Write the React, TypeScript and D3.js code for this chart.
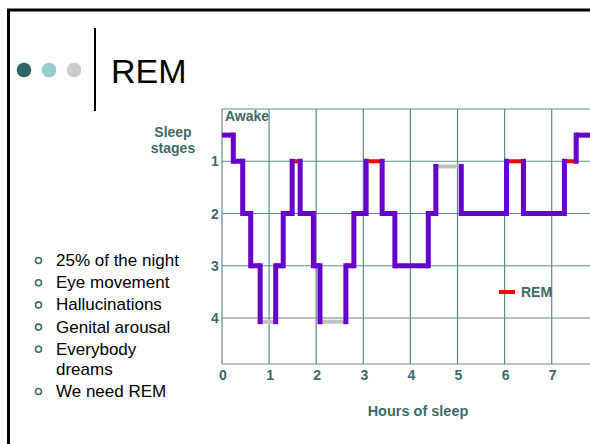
import * as d3 from "d3";

// hypnogram: each horizontal run of the night
const segStart = [0, 0.24, 0.44, 0.61, 0.81, 1.14, 1.3, 1.49, 1.66, 1.94, 2.08, 2.63, 2.8, 3.06, 3.4, 3.67, 4.38, 4.54, 5.08, 6.04, 6.4, 7.27, 7.52];
const segEnd = [0.24, 0.44, 0.61, 0.81, 1.14, 1.3, 1.49, 1.66, 1.94, 2.08, 2.63, 2.8, 3.06, 3.4, 3.67, 4.38, 4.54, 5.08, 6.04, 6.4, 7.27, 7.52, 7.9];
const segStage = [0.5, 1, 2, 3, 4.07, 3, 2, 1, 2, 3, 4.07, 3, 2, 1, 2, 3, 2, 1.1, 2, 1, 2, 1, 0.5];
const segKind = ["sleep", "sleep", "sleep", "sleep", "gray", "sleep", "sleep", "rem", "sleep", "sleep", "gray", "sleep", "sleep", "rem", "sleep", "sleep", "sleep", "gray", "sleep", "rem", "sleep", "rem", "sleep"];

const hourTicks = [0, 1, 2, 3, 4, 5, 6, 7];
const stageTicks = [1, 2, 3, 4];
const bullets = ["25% of the night", "Eye movement", "Hallucinations", "Genital arousal", "Everybody|dreams", "We need REM"];
const dotColors = ["#2f6666", "#99cccc", "#cccccc"];

const teal = "#3d6a6a";
const gridColor = "#5e8b88";

export default function App() {
  const x = d3.scaleLinear().domain([0, 8]).range([222, 222 + 8 * 47.1]);
  const y = d3.scaleLinear().domain([0, 4.88]).range([109, 364]);

  const segs = segStart.map((s, i) => ({
    s,
    e: segEnd[i],
    stage: segStage[i],
    kind: segKind[i],
  }));

  const color: Record<string, string> = { sleep: "#6600cc", rem: "#ff0000", gray: "#c0c0c0" };
  const hline = d3.line<[number, number]>().x((d) => x(d[0])).y((d) => y(d[1]));

  return (
    <svg width={590} height={444} style={{ position: "fixed", left: 0, top: 0, background: "#fff" }} fontFamily="Arial, 'Liberation Sans', sans-serif">
      <rect x={8.5} y={10} width={640} height={500} fill="none" stroke="#000" strokeWidth={3} />

      {/* title */}
      {dotColors.map((c, i) => (
        <circle key={c} cx={24 + i * 25} cy={70} r={7.3} fill={c} />
      ))}
      <line x1={95} x2={95} y1={28} y2={111} stroke="#000" strokeWidth={2} />
      <text x={111} y={83} fontSize={34} fill="#000">REM</text>

      {/* bullets */}
      {(() => {
        let by = 266;
        const out: any[] = [];
        bullets.forEach((b, i) => {
          const parts = b.split("|");
          out.push(<circle key={"c" + i} cx={38.5} cy={by - 5.5} r={3} fill="none" stroke={teal} strokeWidth={1.6} />);
          parts.forEach((p, j) => {
            out.push(
              <text key={i + "-" + j} x={56} y={by + j * 20} fontSize={17} fill="#000">{p}</text>
            );
          });
          by += 22.2 + (parts.length - 1) * 20;
        });
        return out;
      })()}

      {/* grid */}
      <g stroke={gridColor} strokeWidth={1.2}>
        {hourTicks.slice(1).map((h) => (
          <line key={h} x1={x(h)} x2={x(h)} y1={109} y2={364} />
        ))}
        {stageTicks.map((s) => (
          <line key={s} x1={222} x2={600} y1={y(s)} y2={y(s)} />
        ))}
        <line x1={222} x2={600} y1={109} y2={109} />
        <line x1={222} x2={600} y1={364} y2={364} />
        <line x1={222} x2={222} y1={109} y2={364} />
      </g>

      {/* axis labels */}
      <g fill={teal} fontWeight="bold" fontSize={14}>
        <text x={225} y={121}>Awake</text>
        <text x={173} y={137} textAnchor="middle">Sleep</text>
        <text x={173} y={153} textAnchor="middle">stages</text>
        {stageTicks.map((s) => (
          <text key={s} x={215} y={y(s) + 5} textAnchor="middle">{s}</text>
        ))}
        {hourTicks.map((h) => (
          <text key={h} x={x(h) + 1} y={380} textAnchor="middle">{h}</text>
        ))}
        <text x={418} y={416} textAnchor="middle" fontSize={14.5}>Hours of sleep</text>
        <text x={521} y={297}>REM</text>
      </g>
      <line x1={499} x2={515} y1={292} y2={292} stroke="#ff0000" strokeWidth={4} />

      {/* hypnogram */}
      {segs.map((d, i) => (
        <path
          key={"h" + i}
          d={hline([[d.s, d.stage], [d.e, d.stage]]) || ""}
          stroke={color[d.kind]}
          strokeWidth={d.kind === "sleep" ? 5 : 4}
          fill="none"
        />
      ))}
      {segs.slice(1).map((d, i) => (
        <path
          key={"v" + i}
          d={hline([[d.s, segs[i].stage], [d.s, d.stage]]) || ""}
          stroke="#6600cc"
          strokeWidth={5}
          strokeLinecap="square"
          fill="none"
        />
      ))}
    </svg>
  );
}
